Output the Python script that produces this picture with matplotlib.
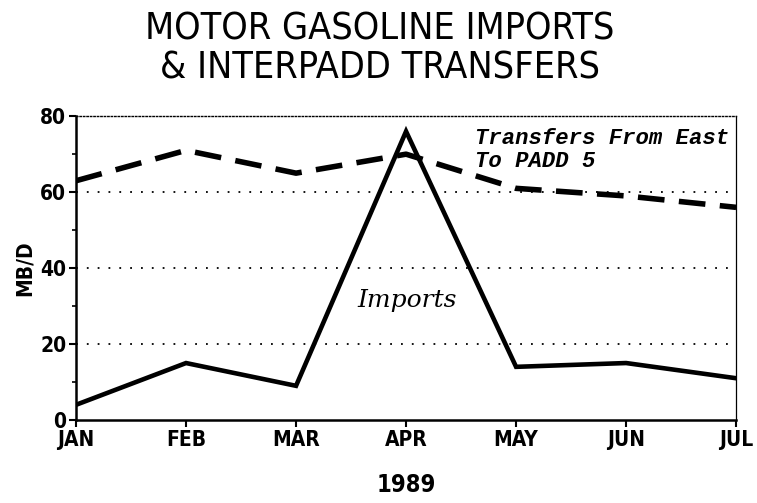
import matplotlib
matplotlib.use("Agg")
import matplotlib.pyplot as plt
from matplotlib.ticker import MultipleLocator

months = ["JAN", "FEB", "MAR", "APR", "MAY", "JUN", "JUL"]
imports = [4, 15, 9, 76, 14, 15, 11]
transfers = [63, 71, 65, 70, 61, 59, 56]
y_ticks = [0, 20, 40, 60, 80]

fig = plt.figure(figsize=(7.57, 5.03), dpi=100)
ax = fig.add_axes([0.1004, 0.165, 0.872, 0.604])

x = list(range(len(months)))
ax.plot(x, transfers, color="black", lw=4.0, dashes=(4.8, 2.6), solid_capstyle="butt")
ax.plot(x, imports, color="black", lw=3.3, solid_joinstyle="miter")

ax.set_xlim(0, len(months) - 1)
ax.set_ylim(0, 80)
ax.set_xticks(x)
ax.set_xticklabels(months)
ax.set_yticks(y_ticks)
ax.yaxis.set_minor_locator(MultipleLocator(10))

for yv in y_ticks[1:-1]:
    ax.axhline(yv, color="black", lw=1.3, ls=(0, (1, 5)))

ax.spines["left"].set_linewidth(1.8)
ax.spines["bottom"].set_linewidth(1.8)
ax.spines["right"].set_linewidth(0.9)
ax.spines["top"].set_linewidth(1.0)
ax.spines["top"].set_linestyle((0, (1, 1.5)))

for lab in ax.get_xticklabels() + ax.get_yticklabels():
    lab.set_fontfamily("DejaVu Sans")
    lab.set_fontweight("bold")
    lab.set_fontstretch("condensed")
    lab.set_fontsize(15)

ax.tick_params(axis="both", which="major", direction="out", length=5, width=1.5, colors="black", pad=2)
ax.tick_params(axis="y", which="minor", direction="out", length=3, width=1.2)

ax.set_ylabel("MB/D", fontsize=15, fontweight="bold", fontstretch="condensed", labelpad=4)
ax.set_xlabel("1989", fontsize=17, fontweight="bold", fontstretch="condensed", labelpad=17)

fig.text(0.502, 0.977, "MOTOR GASOLINE IMPORTS\n& INTERPADD TRANSFERS", ha="center", va="top",
         fontsize=27, fontstretch="condensed", linespacing=1.1)

ax.text(3.63, 77.0, "Transfers From East\nTo PADD 5", ha="left", va="top",
        fontsize=16.0, family="Liberation Mono", style="italic", weight="bold", linespacing=1.15)
ax.text(2.56, 31.5, "Imports", ha="left", va="center",
        fontsize=18, family="DejaVu Serif", style="italic")

fig.savefig("out.png", dpi=100)
